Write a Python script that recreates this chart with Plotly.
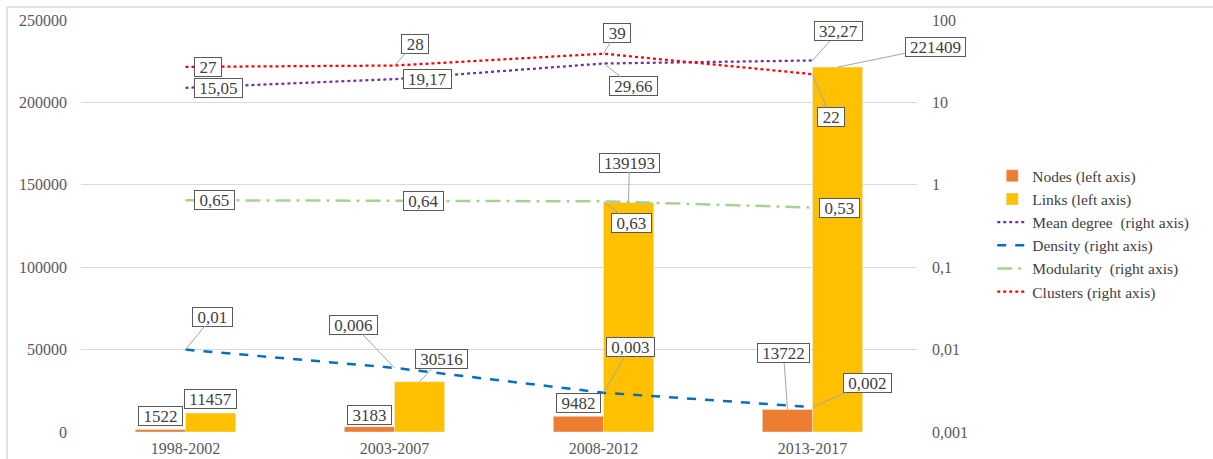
import math
import plotly.graph_objects as go

# ---------------- data ----------------
periods = ["1998-2002", "2003-2007", "2008-2012", "2013-2017"]
nodes = [1522, 3183, 9482, 13722]
links = [11457, 30516, 139193, 221409]
mean_degree = [15.05, 19.17, 29.66, 32.27]
density = [0.01, 0.006, 0.003, 0.002]
modularity = [0.65, 0.64, 0.63, 0.53]
clusters = [27, 28, 39, 22]

left_ticks = [0, 50000, 100000, 150000, 200000, 250000]
right_ticks = [0.001, 0.01, 0.1, 1, 10, 100]
right_tick_text = ["0,001", "0,01", "0,1", "1", "10", "100"]

names = ["Nodes (left axis)", "Links (left axis)", "Mean degree  (right axis)",
         "Density (right axis)", "Modularity  (right axis)", "Clusters (right axis)"]

# ---------------- style ----------------
FONT = "Liberation Serif, Times New Roman, serif"
TXT = "#404040"
GRID = "#D9D9D9"
C_NODES = "#ED7D31"
C_LINKS = "#FFC000"
C_MEAN = "#7030A0"
C_DENS = "#0070C0"
C_MOD = "#A9D18E"
C_CLUS = "#FF0000"

fig = go.Figure()
fig.add_trace(go.Bar(x=periods, y=nodes, name=names[0], marker_color=C_NODES, yaxis="y"))
fig.add_trace(go.Bar(x=periods, y=links, name=names[1], marker_color=C_LINKS, yaxis="y"))
fig.add_trace(go.Scatter(x=periods, y=mean_degree, name=names[2], mode="lines", yaxis="y2",
                         line=dict(color=C_MEAN, width=2.25, dash="dot")))
fig.add_trace(go.Scatter(x=periods, y=density, name=names[3], mode="lines", yaxis="y2",
                         line=dict(color=C_DENS, width=2.5, dash="dash")))
fig.add_trace(go.Scatter(x=periods, y=modularity, name=names[4], mode="lines", yaxis="y2",
                         line=dict(color=C_MOD, width=2.5, dash="longdashdot")))
fig.add_trace(go.Scatter(x=periods, y=clusters, name=names[5], mode="lines", yaxis="y2",
                         line=dict(color=C_CLUS, width=2.25, dash="dot")))


def fmt(v):
    return str(v).replace(".", ",")


def box_w(s):
    return sum(4.1 if c in ",." else 8.2 for c in s) + 10


annotations = []


def add_label(xcat, val, yref, xshift, mode, dx=0, dy=0):
    text = fmt(val)
    yv = math.log10(val) if yref == "y2" else val
    a = dict(x=xcat, y=yv, xref="x", yref=yref, text=text, xshift=xshift,
             font=dict(family=FONT, size=17, color=TXT),
             bgcolor="white", bordercolor="#595959", borderwidth=1, borderpad=0,
             width=box_w(text), height=18)
    if mode == "arrow":
        a.update(showarrow=True, ax=dx, ay=dy, arrowhead=0, arrowwidth=1,
                 arrowcolor="#A6A6A6", standoff=0, startstandoff=0)
    elif mode == "above":
        a.update(showarrow=False, yanchor="bottom", yshift=dy)
    elif mode == "right":
        a.update(showarrow=False, xanchor="left", xshift=xshift + dx, yshift=dy)
    annotations.append(a)


# label placements (pixel offsets)
nodes_pos = [("above", 0, 3), ("above", 0, 2), ("above", 0, 3), ("arrow", -4, -56)]
links_pos = [("above", 0, 4), ("arrow", 22, -23), ("arrow", 1, -40), ("arrow", 98, -20)]
mean_pos = [("right", 8, 0), ("right", 8, 0), ("arrow", 30, 23), ("arrow", 26, -29)]
clus_pos = [("right", 8, 0), ("arrow", 20, -22), ("arrow", 13, -21), ("arrow", 18, 43)]
mod_pos = [("right", 8, 0), ("right", 8, 0), ("arrow", 28, 22), ("right", 6, 0)]
dens_pos = [("arrow", 27, -33), ("arrow", -41, -43), ("arrow", 27, -46), ("arrow", 55, -24)]

for i, p in enumerate(periods):
    add_label(p, nodes[i], "y", -25, *nodes_pos[i])
    add_label(p, links[i], "y", 25, *links_pos[i])
    add_label(p, mean_degree[i], "y2", 0, *mean_pos[i])
    add_label(p, clusters[i], "y2", 0, *clus_pos[i])
    add_label(p, modularity[i], "y2", 0, *mod_pos[i])
    add_label(p, density[i], "y2", 0, *dens_pos[i])

W, H = 1213, 459
L, R, T, B = 81, 296, 20, 27
pw, ph = W - L - R, H - T - B


def px_to_paper_x(px):
    return (px - L) / pw


def px_to_paper_y(py):
    return (H - B - py) / ph


shapes = [
    dict(type="line", xref="paper", yref="paper", x0=px_to_paper_x(7), x1=px_to_paper_x(1213),
         y0=px_to_paper_y(7), y1=px_to_paper_y(7), line=dict(color=GRID, width=1.5)),
    dict(type="line", xref="paper", yref="paper", x0=px_to_paper_x(7), x1=px_to_paper_x(7),
         y0=px_to_paper_y(7), y1=px_to_paper_y(460), line=dict(color=GRID, width=1.5)),
]

TICKFONT = dict(family=FONT, size=16, color="#595959")

fig.update_layout(
    width=W, height=H,
    margin=dict(l=L, r=R, t=T, b=B, pad=0, autoexpand=False),
    paper_bgcolor="white", plot_bgcolor="white",
    barmode="group", bargap=0.52, bargroupgap=0,
    font=dict(family=FONT, size=16, color="#595959"),
    showlegend=True,
    legend=dict(x=1.09, y=0.662, xanchor="left", yanchor="top",
                font=dict(family=FONT, size=15.5, color=TXT),
                bgcolor="rgba(0,0,0,0)", tracegroupgap=0, itemwidth=30),
    xaxis=dict(type="category", range=[-0.5, len(periods) - 0.5], autorange=False,
               showgrid=False, showline=False, zeroline=False,
               ticks="", ticklabelstandoff=5, tickfont=TICKFONT),
    yaxis=dict(range=[0, 250000], autorange=False, tickvals=left_ticks, tickformat="d",
               showgrid=True, gridcolor=GRID, gridwidth=1, zeroline=False,
               showline=False, ticks="", ticklabelstandoff=13, automargin=False,
               tickfont=TICKFONT),
    yaxis2=dict(type="log", range=[-3, 2], autorange=False, overlaying="y", side="right",
                tickvals=right_ticks, ticktext=right_tick_text, automargin=False,
                showgrid=False, zeroline=False, showline=False, ticks="",
                ticklabelstandoff=14, tickfont=TICKFONT),
    annotations=annotations,
    shapes=shapes,
)

fig.write_html("out.html", config={"displayModeBar": False},
               post_script="document.body.style.margin='0';")
